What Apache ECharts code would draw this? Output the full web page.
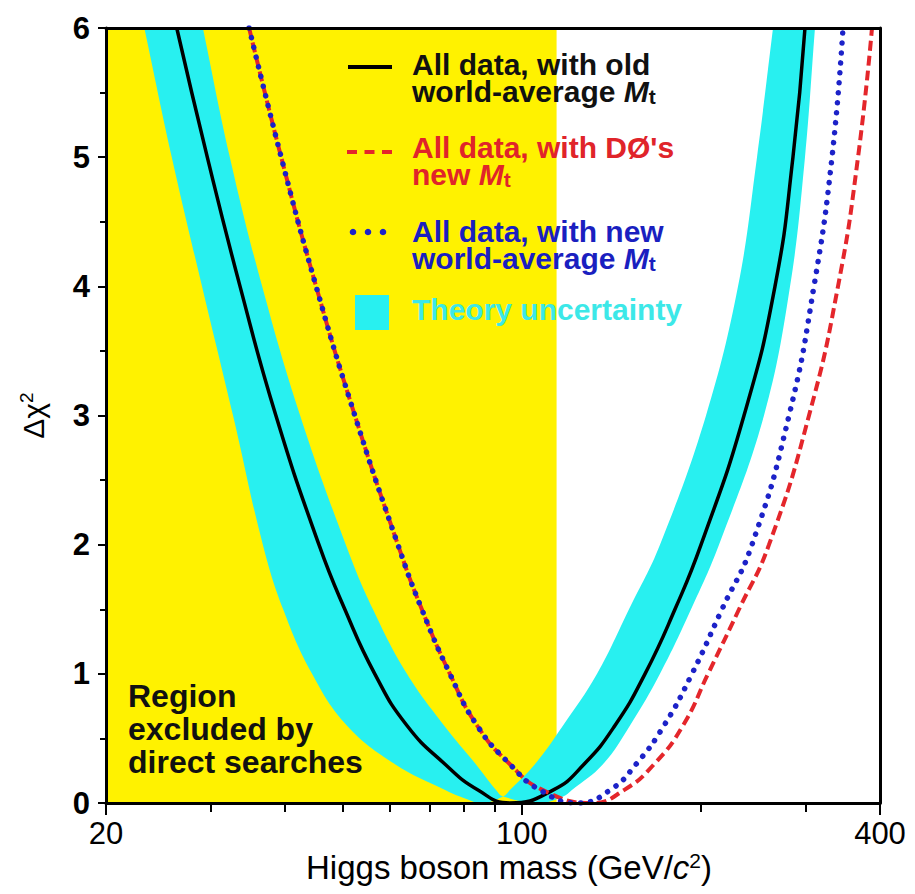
<!DOCTYPE html>
<html><head><meta charset="utf-8">
<script src="https://cdn.jsdelivr.net/npm/echarts@6/dist/echarts.min.js"></script>
<style>html,body{margin:0;padding:0;background:#fff}#c{width:915px;height:894px}</style>
</head><body><div id="c"></div>
<script>
// ---- data: [Higgs mass (GeV), delta chi2] ----
const oldWorldAvg = [[26.3,6],[29.6,5],[33.6,4],[38.6,3],[45.6,2],[50.4,1.5],[56.6,1],[64.1,0.6],[74.3,0.3],[84.4,0.1],[95.5,0],[112.8,0.1],[127.2,0.3],[143.4,0.6],[161.1,1],[180.9,1.5],[200.1,2],[236.3,3],[266.4,4],[285.6,5],[299.2,6]];
const d0NewMt = [[34.8,6],[39.4,5],[45.1,4],[52.4,3],[61.9,2],[67.9,1.5],[75.7,1],[84.1,0.6],[95.5,0.3],[108.5,0.1],[131.2,0],[148.5,0.1],[166.8,0.3],[186.6,0.6],[205.6,1],[231.8,1.5],[260.3,2],[303.9,3],[340.0,4],[367.4,5],[387.8,6]];
const newWorldAvg = [[34.8,6],[39.4,5],[45.1,4],[52.4,3],[61.9,2],[67.9,1.5],[75.7,1],[84.1,0.6],[95.5,0.3],[107.3,0.1],[124.3,0],[140.7,0.1],[155.6,0.3],[173.4,0.6],[193.2,1],[217.0,1.5],[243.7,2],[281.3,3],[309.8,4],[332.2,5],[346.6,6]];
// theory band edges: curve shifted to lower mass / curve shifted to higher mass
const bandLowEdge = [[23.2,6],[25.8,5],[29.0,4],[32.7,3],[36.7,2],[39.7,1.5],[44.4,1],[50.8,0.6],[61.2,0.3],[74.3,0.1],[78.7,0.05],[85.7,0],[93.0,0.05],[95.5,0.1],[105.2,0.3],[117.3,0.6],[133.8,1],[151.4,1.5],[170.7,2],[204.0,3],[230.9,4],[248.5,5],[264.4,6]];
const bandHighEdge = [[29.1,6],[32.3,5],[36.6,4],[42.4,3],[50.6,2],[56.2,1.5],[64.1,1],[74.0,0.6],[83.7,0.3],[90.5,0.1],[93.0,0.05],[107.3,0],[117.3,0.05],[121.4,0.1],[136.9,0.3],[152.0,0.6],[170.7,1],[192.5,1.5],[214.5,2],[255.3,3],[282.4,4],[299.2,5],[311.0,6]];
const excludedRegion = [20, 114.4];
const xRange = [20, 400];
const yRange = [0, 6];
const xMajorTicks = [20, 100, 400];
const xMinorTicks = [30, 40, 50, 60, 70, 80, 90, 200, 300];

const FONT = "'Liberation Sans', Arial, Helvetica, sans-serif";
const chart = echarts.init(document.getElementById('c'), null, {renderer: 'svg'});
const lg = v => Math.log10(v);
const hidden = {axisLine:{show:false}, axisTick:{show:false}, axisLabel:{show:false}, splitLine:{show:false}};
const CYAN = '#28F0F0', RED = '#E4262B', BLUE = '#1C22C8';

// repeat the end points of an edge so the smoothed outline keeps a sharp corner there
const withSharpEnds = pts => [pts[0]].concat(pts, [pts[pts.length - 1]]);

const option = {
  animation: false,
  backgroundColor: '#fff',
  grid: {left: 106, right: 35, top: 28, bottom: 91},
  xAxis: [
    Object.assign({}, hidden, {type:'log', min:xRange[0], max:xRange[1], position:'bottom', z:10,
      axisLine:{show:true, onZero:false, lineStyle:{color:'#000', width:3}},
      name:'{a|Higgs boson mass (GeV/}{i|c}{s|2}{a|)}', nameLocation:'middle', nameGap:46,
      nameTextStyle:{padding:[0,0,0,32], rich:{
        a:{fontFamily:FONT, fontSize:33, color:'#000', lineHeight:36},
        i:{fontFamily:FONT, fontSize:33, fontStyle:'italic', color:'#000', lineHeight:36},
        s:{fontFamily:FONT, fontSize:21, color:'#000', lineHeight:22, padding:[0,0,14,0]}}}}),
    Object.assign({}, hidden, {type:'value', min:lg(xRange[0]), max:lg(xRange[1]), position:'bottom', z:10,
      axisTick:{show:true, customValues: xMajorTicks.map(lg), length:12, lineStyle:{color:'#000', width:2}},
      axisLabel:{show:true, customValues: xMajorTicks.map(lg), margin:15, fontFamily:FONT, fontSize:31, color:'#000',
        formatter: v => String(Math.round(Math.pow(10, v)))}}),
    Object.assign({}, hidden, {type:'value', min:lg(xRange[0]), max:lg(xRange[1]), position:'bottom', z:10,
      axisTick:{show:true, customValues: xMinorTicks.map(lg), length:9, lineStyle:{color:'#000', width:2}}}),
    Object.assign({}, hidden, {type:'log', min:xRange[0], max:xRange[1], position:'top', z:10,
      axisLine:{show:true, onZero:false, lineStyle:{color:'#000', width:3}}})
  ],
  yAxis: [
    {type:'value', min:yRange[0], max:yRange[1], interval:1, position:'left', z:10,
      axisLine:{show:true, lineStyle:{color:'#000', width:3}},
      axisTick:{show:true, length:8, lineStyle:{color:'#000', width:2}},
      minorTick:{show:true, splitNumber:2, length:6, lineStyle:{color:'#000', width:2}},
      splitLine:{show:false}, minorSplitLine:{show:false},
      axisLabel:{margin:16, fontFamily:FONT, fontSize:31, fontWeight:'bold', color:'#000'},
      name:'{a|Δχ}{s|2}', nameLocation:'middle', nameRotate:90, nameGap:56,
      nameTextStyle:{rich:{
        a:{fontFamily:FONT, fontSize:30, color:'#000', lineHeight:34},
        s:{fontFamily:FONT, fontSize:19, color:'#000', lineHeight:20, padding:[0,0,14,0]}}}},
    Object.assign({}, hidden, {type:'value', min:yRange[0], max:yRange[1], position:'right', z:10,
      axisLine:{show:true, onZero:false, lineStyle:{color:'#000', width:3}}})
  ],
  series: [
    {type:'custom', name:'excluded', xAxisIndex:0, yAxisIndex:0, z:1, clip:true, silent:true,
      data:[[excludedRegion[0], excludedRegion[1], yRange[0], yRange[1]]],
      encode:{x:[0,1], y:[2,3]},
      renderItem:(params, api) => {
        const p0 = api.coord([api.value(0), api.value(3)]);
        const p1 = api.coord([api.value(1), api.value(2)]);
        return {type:'rect', shape:{x:p0[0], y:p0[1], width:p1[0]-p0[0], height:p1[1]-p0[1]}, style:{fill:'#FFF200'}};
      }},
    {type:'custom', name:'Theory uncertainty', xAxisIndex:0, yAxisIndex:0, z:2, clip:true, silent:true,
      data:[[bandLowEdge[0][0], 0]],
      itemStyle:{color:CYAN},
      renderItem:(params, api) => {
        const cs = params.coordSys;
        const hi = withSharpEnds(bandHighEdge.map(p => api.coord(p)));
        const lo = withSharpEnds(bandLowEdge.map(p => api.coord(p))).reverse();
        return {type:'polygon', shape:{points:hi.concat(lo), smooth:0.4,
          smoothConstraint:[[cs.x, cs.y],[cs.x+cs.width, cs.y+cs.height]]},
          style:{fill:CYAN}};
      }},
    {type:'line', name:'old', xAxisIndex:0, yAxisIndex:0, z:3, data:oldWorldAvg, showSymbol:false, smooth:0.5,
      lineStyle:{color:'#000', width:3.5}},
    {type:'line', name:'D0', xAxisIndex:0, yAxisIndex:0, z:4, data:d0NewMt, showSymbol:false, smooth:0.5,
      lineStyle:{color:RED, width:4, type:[10,5]}},
    {type:'line', name:'new', xAxisIndex:0, yAxisIndex:0, z:5, data:newWorldAvg, showSymbol:false, smooth:0.5,
      lineStyle:{color:BLUE, width:5.5, type:[0.1,9.9], cap:'round'}}
  ],
  graphic: [
    {type:'line', z:100, shape:{x1:348, y1:67, x2:392, y2:67}, style:{stroke:'#000', lineWidth:4}},
    {type:'line', z:100, shape:{x1:347, y1:152, x2:392, y2:152}, style:{stroke:RED, lineWidth:4, lineDash:[10,7.5]}},
    {type:'circle', z:100, shape:{cx:353, cy:232, r:3.3}, style:{fill:BLUE}},
    {type:'circle', z:100, shape:{cx:368, cy:232, r:3.3}, style:{fill:BLUE}},
    {type:'circle', z:100, shape:{cx:383, cy:232, r:3.3}, style:{fill:BLUE}},
    {type:'rect', z:100, shape:{x:355, y:295, width:34, height:35}, style:{fill:CYAN}}
  ]
};

const legendRich = color => ({
  i:{fontFamily:FONT, fontSize:30, fontWeight:'bold', fontStyle:'italic', fill:color, lineHeight:27},
  t:{fontFamily:FONT, fontSize:21, fontWeight:'bold', fill:color, lineHeight:17, padding:[10,0,0,0]}
});
const legendTexts = [
  {y:51, color:'#111', text:'All data, with old\nworld-average {i|M}{t|t}'},
  {y:134, color:'#E0242A', text:'All data, with DØ\'s\nnew {i|M}{t|t}'},
  {y:218, color:'#1A1FC0', text:'All data, with new\nworld-average {i|M}{t|t}'},
  {y:296, color:'#3CE8E8', text:'Theory uncertainty'}
];
legendTexts.forEach(e => option.graphic.push({type:'text', z:100, x:412, y:e.y,
  style:{text:e.text, fill:e.color, fontFamily:FONT, fontSize:30, fontWeight:'bold', lineHeight:27,
    verticalAlign:'top', align:'left', rich:legendRich(e.color)}}));
option.graphic.push({type:'text', z:100, x:128, y:679,
  style:{text:'Region\nexcluded by\ndirect searches', fill:'#111', fontFamily:FONT, fontSize:32, fontWeight:'bold',
    lineHeight:33, verticalAlign:'top', align:'left'}});

chart.setOption(option);
</script></body></html>
